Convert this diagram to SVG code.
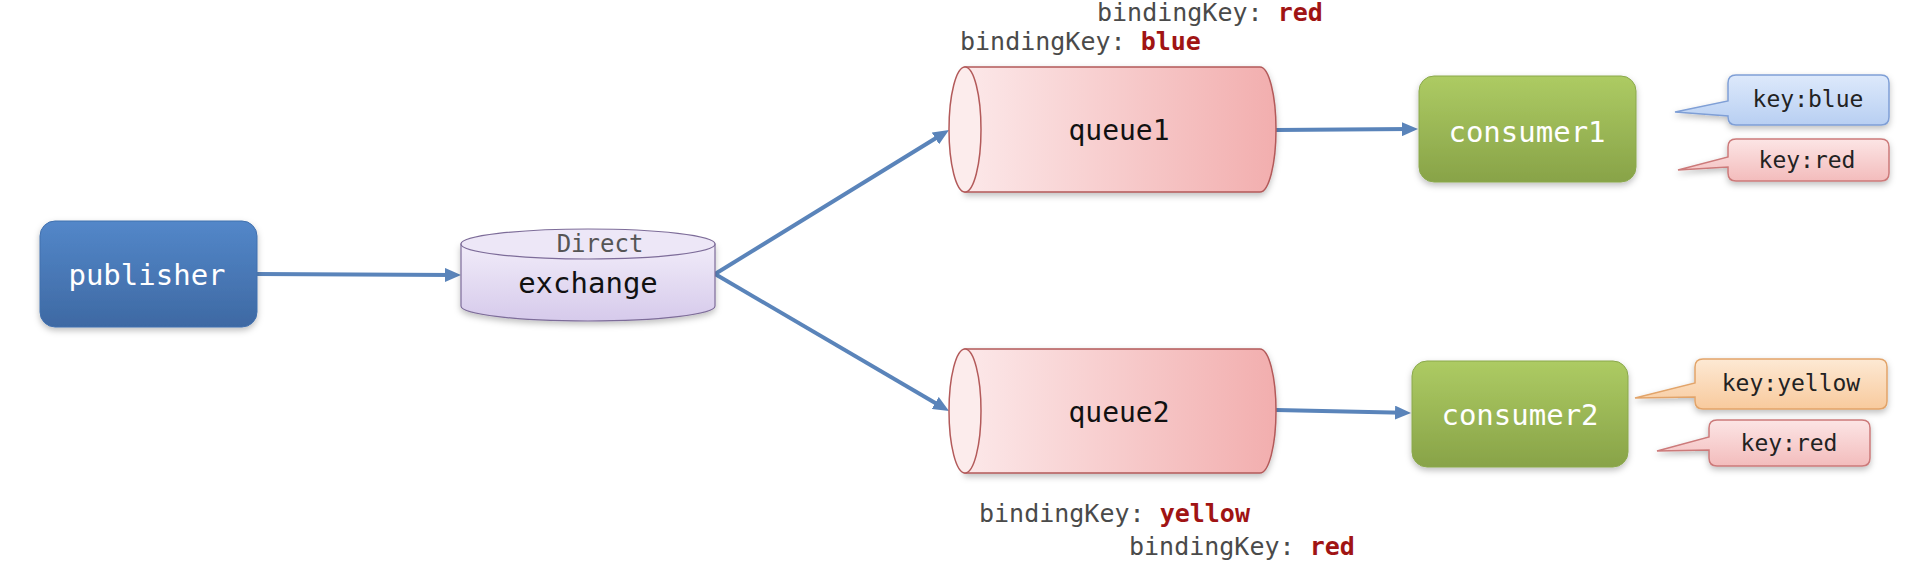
<svg xmlns="http://www.w3.org/2000/svg" width="1924" height="562" viewBox="0 0 1924 562">
  <style>
    text { font-family: "DejaVu Sans Mono", "Liberation Mono", monospace; }
    .node-label { font-size: 29px; text-anchor: middle; }
    .white { fill: #ffffff; }
    .dark { fill: #111111; }
    .bind { font-size: 25px; fill: #4a4a4a; }
    .bind .val { font-weight: bold; fill: #a01414; }
    .key { font-size: 23px; fill: #222222; text-anchor: middle; }
    .conn { stroke: #5a84ba; stroke-width: 4; fill: none; marker-end: url(#arrow); }
    .queue-body { fill: url(#gQueue); stroke: #b35a5a; stroke-width: 1.5; }
    .queue-end { fill: #fcecec; stroke: #b35a5a; stroke-width: 1.5; }
    .consumer { fill: url(#gGreen); stroke: #8aa84c; stroke-width: 1; }
  </style>
  <defs>
    <linearGradient id="gBlue" x1="0" y1="0" x2="0" y2="1">
      <stop offset="0" stop-color="#5387c9"/>
      <stop offset="1" stop-color="#3e69a3"/>
    </linearGradient>
    <linearGradient id="gLav" x1="0" y1="0" x2="0" y2="1">
      <stop offset="0" stop-color="#f1ecf9"/>
      <stop offset="1" stop-color="#d6caeb"/>
    </linearGradient>
    <linearGradient id="gQueue" x1="0" y1="0" x2="1" y2="0">
      <stop offset="0" stop-color="#fce8e9"/>
      <stop offset="1" stop-color="#f2aeae"/>
    </linearGradient>
    <linearGradient id="gGreen" x1="0" y1="0" x2="0" y2="1">
      <stop offset="0" stop-color="#adcb63"/>
      <stop offset="1" stop-color="#88a348"/>
    </linearGradient>
    <linearGradient id="gBubBlue" x1="0" y1="0" x2="0" y2="1">
      <stop offset="0" stop-color="#dde9fb"/>
      <stop offset="1" stop-color="#b8cff2"/>
    </linearGradient>
    <linearGradient id="gBubRed" x1="0" y1="0" x2="0" y2="1">
      <stop offset="0" stop-color="#fce5e5"/>
      <stop offset="1" stop-color="#f3bcbc"/>
    </linearGradient>
    <linearGradient id="gBubYellow" x1="0" y1="0" x2="0" y2="1">
      <stop offset="0" stop-color="#fde9d4"/>
      <stop offset="1" stop-color="#f8ca9d"/>
    </linearGradient>
    <filter id="shadow" x="-10%" y="-10%" width="120%" height="135%">
      <feDropShadow dx="0" dy="3" stdDeviation="3" flood-color="#000000" flood-opacity="0.25"/>
    </filter>
    <marker id="arrow" markerUnits="userSpaceOnUse" markerWidth="16" markerHeight="14" refX="8" refY="7" orient="auto">
      <path d="M0,0 L16,7 L0,14 Z" fill="#5a84ba"/>
    </marker>
  </defs>

  <g id="connectors">
    <line class="conn" x1="257" y1="274" x2="453" y2="275"/>
    <line class="conn" x1="715" y1="274" x2="942.2" y2="134.2"/>
    <line class="conn" x1="715" y1="274" x2="942.1" y2="407"/>
    <line class="conn" x1="1276" y1="130" x2="1410" y2="129.1"/>
    <line class="conn" x1="1276" y1="410" x2="1403" y2="412.8"/>
  </g>

  <g id="publisher">
    <rect x="40" y="221" width="217" height="106" rx="15" fill="url(#gBlue)" stroke="#4170ae" stroke-width="1" filter="url(#shadow)"/>
    <text class="node-label white" x="147" y="285">publisher</text>
  </g>

  <g id="exchange">
    <path d="M461,244 V306 A127,15 0 0 0 715,306 V244 Z" fill="url(#gLav)" stroke="#7d6c99" stroke-width="1.2" filter="url(#shadow)"/>
    <ellipse cx="588" cy="244" rx="127" ry="15" fill="#ede7f7" stroke="#7d6c99" stroke-width="1.2"/>
    <text x="600" y="252" font-size="24" fill="#555555" text-anchor="middle">Direct</text>
    <text class="dark" x="588" y="293" font-size="29" text-anchor="middle">exchange</text>
  </g>

  <g id="queue1">
    <path class="queue-body" d="M965,67 H1260 A16,62.5 0 0 1 1260,192 H965 Z" filter="url(#shadow)"/>
    <ellipse class="queue-end" cx="965" cy="129.5" rx="16" ry="62.5"/>
    <text class="dark" x="1119" y="140" font-size="28" text-anchor="middle">queue1</text>
  </g>

  <g id="queue2">
    <path class="queue-body" d="M965,349 H1260 A16,62 0 0 1 1260,473 H965 Z" filter="url(#shadow)"/>
    <ellipse class="queue-end" cx="965" cy="411" rx="16" ry="62"/>
    <text class="dark" x="1119" y="422" font-size="28" text-anchor="middle">queue2</text>
  </g>

  <g id="binding-labels">
    <text class="bind" x="1097" y="21">bindingKey: <tspan class="val">red</tspan></text>
    <text class="bind" x="960" y="50">bindingKey: <tspan class="val">blue</tspan></text>
    <text class="bind" x="979" y="522">bindingKey: <tspan class="val">yellow</tspan></text>
    <text class="bind" x="1129" y="555">bindingKey: <tspan class="val">red</tspan></text>
  </g>

  <g id="consumer1">
    <rect class="consumer" x="1419" y="76" width="217" height="106" rx="15" filter="url(#shadow)"/>
    <text class="node-label white" x="1527" y="142">consumer1</text>
  </g>

  <g id="consumer2">
    <rect class="consumer" x="1412" y="361" width="216" height="106" rx="15" filter="url(#shadow)"/>
    <text class="node-label white" x="1520" y="425">consumer2</text>
  </g>

  <g id="bubble-c1-blue">
    <path d="M1736,75 H1881 Q1889,75 1889,83 V117 Q1889,125 1881,125 H1736 Q1728,125 1728,117 V116 L1675,112 L1728,101 V83 Q1728,75 1736,75 Z" fill="url(#gBubBlue)" stroke="#7f9fd6" stroke-width="1.5" filter="url(#shadow)"/>
    <text class="key" x="1808" y="107">key:blue</text>
  </g>

  <g id="bubble-c1-red">
    <path d="M1736,139 H1881 Q1889,139 1889,147 V173 Q1889,181 1881,181 H1736 Q1728,181 1728,173 V167 L1678,170 L1728,157 V147 Q1728,139 1736,139 Z" fill="url(#gBubRed)" stroke="#cc7a7a" stroke-width="1.5" filter="url(#shadow)"/>
    <text class="key" x="1807" y="168">key:red</text>
  </g>

  <g id="bubble-c2-yellow">
    <path d="M1703,359 H1879 Q1887,359 1887,367 V401 Q1887,409 1879,409 H1703 Q1695,409 1695,401 V397 L1635,398 L1695,383 V367 Q1695,359 1703,359 Z" fill="url(#gBubYellow)" stroke="#e2a46a" stroke-width="1.5" filter="url(#shadow)"/>
    <text class="key" x="1791" y="391">key:yellow</text>
  </g>

  <g id="bubble-c2-red">
    <path d="M1717,420 H1862 Q1870,420 1870,428 V458 Q1870,466 1862,466 H1717 Q1709,466 1709,458 V450 L1657,451 L1709,437 V428 Q1709,420 1717,420 Z" fill="url(#gBubRed)" stroke="#cc7a7a" stroke-width="1.5" filter="url(#shadow)"/>
    <text class="key" x="1789" y="451">key:red</text>
  </g>
</svg>
